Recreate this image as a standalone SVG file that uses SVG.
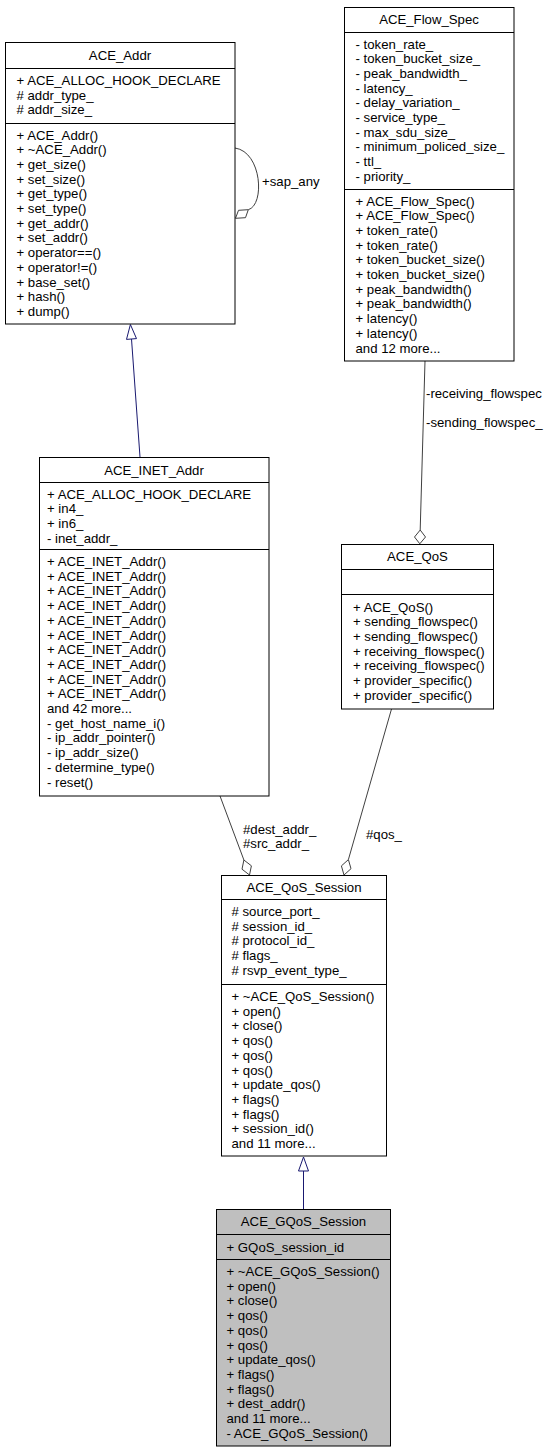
<svg xmlns="http://www.w3.org/2000/svg" width="549" height="1453" viewBox="0 0 549 1453">
<style>
.bg{fill:#ffffff}
.box{fill:#ffffff;stroke:#000000;stroke-width:1}
.cur{fill:#bfbfbf;stroke:#000000;stroke-width:1}
.sep{stroke:#000000;stroke-width:1}
text{font-family:"Liberation Sans",Arial,Helvetica,sans-serif;font-size:13.2px;fill:#000000}
.mid{text-anchor:middle}
.agg{fill:none;stroke:#404040;stroke-width:1}
.aggh{fill:#ffffff;stroke:#404040;stroke-width:1}
.inh{fill:none;stroke:#191970;stroke-width:1}
.inhh{fill:#ffffff;stroke:#191970;stroke-width:1}
</style>
<rect class="bg" x="0" y="0" width="549" height="1453"/>

<g id="connectors">
  <!-- self aggregation on ACE_Addr -->
  <path class="agg" d="M235,148 C262,152 265,205 248.3,209.7"/>
  <polygon class="aggh" points="248.3,209.7 245.5,217.7 235.5,218.3 238.5,210.3"/>
  <text x="262" y="186">+sap_any</text>
  <!-- ACE_INET_Addr inherits ACE_Addr -->
  <path class="inh" d="M140,457 L131.5,339"/>
  <polygon class="inhh" points="130.4,324.5 136.5,338.6 126.5,339.4"/>
  <!-- ACE_Flow_Spec aggregated by ACE_QoS -->
  <path class="agg" d="M425,361 L420.2,530"/>
  <polygon class="aggh" points="420.2,530 425.5,537 419.8,543.8 414.5,537"/>
  <text x="426" y="397.5">-receiving_flowspec</text>
  <text x="426" y="427">-sending_flowspec_</text>
  <!-- ACE_INET_Addr aggregated by ACE_QoS_Session -->
  <path class="agg" d="M220,796 L243.9,860"/>
  <polygon class="aggh" points="243.9,860 251.4,865.8 249.5,875 242,869.2"/>
  <text x="243" y="833.5">#dest_addr_</text>
  <text x="243" y="848">#src_addr_</text>
  <!-- ACE_QoS aggregated by ACE_QoS_Session -->
  <path class="agg" d="M391.5,709 L348.4,859.6"/>
  <polygon class="aggh" points="348.4,859.6 351,868.7 344,875 341.4,865.9"/>
  <text x="366" y="838.5">#qos_</text>
  <!-- ACE_GQoS_Session inherits ACE_QoS_Session -->
  <path class="inh" d="M303.5,1209 L303.5,1171"/>
  <polygon class="inhh" points="303.5,1157 308.5,1171 298.5,1171"/>
</g>

<g id="ACE_Addr">
  <rect class="box" x="5.5" y="42.5" width="229.5" height="281.5"/>
  <line class="sep" x1="5.5" y1="68.5" x2="235" y2="68.5"/>
  <line class="sep" x1="5.5" y1="123.5" x2="235" y2="123.5"/>
  <text class="mid" x="120" y="59.5">ACE_Addr</text>
  <text x="16.5" y="85">
    <tspan x="16.5">+ ACE_ALLOC_HOOK_DECLARE</tspan>
    <tspan x="16.5" dy="14.7"># addr_type_</tspan>
    <tspan x="16.5" dy="14.7"># addr_size_</tspan>
  </text>
  <text x="16.5" y="139.5">
    <tspan x="16.5">+ ACE_Addr()</tspan>
    <tspan x="16.5" dy="14.7">+ ~ACE_Addr()</tspan>
    <tspan x="16.5" dy="14.7">+ get_size()</tspan>
    <tspan x="16.5" dy="14.7">+ set_size()</tspan>
    <tspan x="16.5" dy="14.7">+ get_type()</tspan>
    <tspan x="16.5" dy="14.7">+ set_type()</tspan>
    <tspan x="16.5" dy="14.7">+ get_addr()</tspan>
    <tspan x="16.5" dy="14.7">+ set_addr()</tspan>
    <tspan x="16.5" dy="14.7">+ operator==()</tspan>
    <tspan x="16.5" dy="14.7">+ operator!=()</tspan>
    <tspan x="16.5" dy="14.7">+ base_set()</tspan>
    <tspan x="16.5" dy="14.7">+ hash()</tspan>
    <tspan x="16.5" dy="14.7">+ dump()</tspan>
  </text>
</g>

<g id="ACE_Flow_Spec">
  <rect class="box" x="344.5" y="7.5" width="169.5" height="353.5"/>
  <line class="sep" x1="344.5" y1="32.5" x2="514" y2="32.5"/>
  <line class="sep" x1="344.5" y1="189.5" x2="514" y2="189.5"/>
  <text class="mid" x="429" y="24">ACE_Flow_Spec</text>
  <text x="355.5" y="48.5">
    <tspan x="355.5">- token_rate_</tspan>
    <tspan x="355.5" dy="14.7">- token_bucket_size_</tspan>
    <tspan x="355.5" dy="14.7">- peak_bandwidth_</tspan>
    <tspan x="355.5" dy="14.7">- latency_</tspan>
    <tspan x="355.5" dy="14.7">- delay_variation_</tspan>
    <tspan x="355.5" dy="14.7">- service_type_</tspan>
    <tspan x="355.5" dy="14.7">- max_sdu_size_</tspan>
    <tspan x="355.5" dy="14.7">- minimum_policed_size_</tspan>
    <tspan x="355.5" dy="14.7">- ttl_</tspan>
    <tspan x="355.5" dy="14.7">- priority_</tspan>
  </text>
  <text x="355.5" y="205.5">
    <tspan x="355.5">+ ACE_Flow_Spec()</tspan>
    <tspan x="355.5" dy="14.7">+ ACE_Flow_Spec()</tspan>
    <tspan x="355.5" dy="14.7">+ token_rate()</tspan>
    <tspan x="355.5" dy="14.7">+ token_rate()</tspan>
    <tspan x="355.5" dy="14.7">+ token_bucket_size()</tspan>
    <tspan x="355.5" dy="14.7">+ token_bucket_size()</tspan>
    <tspan x="355.5" dy="14.7">+ peak_bandwidth()</tspan>
    <tspan x="355.5" dy="14.7">+ peak_bandwidth()</tspan>
    <tspan x="355.5" dy="14.7">+ latency()</tspan>
    <tspan x="355.5" dy="14.7">+ latency()</tspan>
    <tspan x="355.5" dy="14.7">and 12 more...</tspan>
  </text>
</g>

<g id="ACE_INET_Addr">
  <rect class="box" x="39.5" y="457.5" width="229.5" height="338.5"/>
  <line class="sep" x1="39.5" y1="482.5" x2="269" y2="482.5"/>
  <line class="sep" x1="39.5" y1="549.5" x2="269" y2="549.5"/>
  <text class="mid" x="154" y="474.5">ACE_INET_Addr</text>
  <text x="47" y="498.5">
    <tspan x="47">+ ACE_ALLOC_HOOK_DECLARE</tspan>
    <tspan x="47" dy="14.7">+ in4_</tspan>
    <tspan x="47" dy="14.7">+ in6_</tspan>
    <tspan x="47" dy="14.7">- inet_addr_</tspan>
  </text>
  <text x="47" y="566">
    <tspan x="47">+ ACE_INET_Addr()</tspan>
    <tspan x="47" dy="14.7">+ ACE_INET_Addr()</tspan>
    <tspan x="47" dy="14.7">+ ACE_INET_Addr()</tspan>
    <tspan x="47" dy="14.7">+ ACE_INET_Addr()</tspan>
    <tspan x="47" dy="14.7">+ ACE_INET_Addr()</tspan>
    <tspan x="47" dy="14.7">+ ACE_INET_Addr()</tspan>
    <tspan x="47" dy="14.7">+ ACE_INET_Addr()</tspan>
    <tspan x="47" dy="14.7">+ ACE_INET_Addr()</tspan>
    <tspan x="47" dy="14.7">+ ACE_INET_Addr()</tspan>
    <tspan x="47" dy="14.7">+ ACE_INET_Addr()</tspan>
    <tspan x="47" dy="14.7">and 42 more...</tspan>
    <tspan x="47" dy="14.7">- get_host_name_i()</tspan>
    <tspan x="47" dy="14.7">- ip_addr_pointer()</tspan>
    <tspan x="47" dy="14.7">- ip_addr_size()</tspan>
    <tspan x="47" dy="14.7">- determine_type()</tspan>
    <tspan x="47" dy="14.7">- reset()</tspan>
  </text>
</g>

<g id="ACE_QoS">
  <rect class="box" x="341.5" y="544.5" width="152" height="164.5"/>
  <line class="sep" x1="341.5" y1="569.5" x2="493.5" y2="569.5"/>
  <line class="sep" x1="341.5" y1="594.5" x2="493.5" y2="594.5"/>
  <text class="mid" x="417.5" y="561">ACE_QoS</text>
  <text x="353" y="611.5">
    <tspan x="353">+ ACE_QoS()</tspan>
    <tspan x="353" dy="14.7">+ sending_flowspec()</tspan>
    <tspan x="353" dy="14.7">+ sending_flowspec()</tspan>
    <tspan x="353" dy="14.7">+ receiving_flowspec()</tspan>
    <tspan x="353" dy="14.7">+ receiving_flowspec()</tspan>
    <tspan x="353" dy="14.7">+ provider_specific()</tspan>
    <tspan x="353" dy="14.7">+ provider_specific()</tspan>
  </text>
</g>

<g id="ACE_QoS_Session">
  <rect class="box" x="221.5" y="875.5" width="165" height="280.5"/>
  <line class="sep" x1="221.5" y1="899.5" x2="386.5" y2="899.5"/>
  <line class="sep" x1="221.5" y1="984.5" x2="386.5" y2="984.5"/>
  <text class="mid" x="304" y="891.5">ACE_QoS_Session</text>
  <text x="231.5" y="916">
    <tspan x="231.5"># source_port_</tspan>
    <tspan x="231.5" dy="14.7"># session_id_</tspan>
    <tspan x="231.5" dy="14.7"># protocol_id_</tspan>
    <tspan x="231.5" dy="14.7"># flags_</tspan>
    <tspan x="231.5" dy="14.7"># rsvp_event_type_</tspan>
  </text>
  <text x="231.5" y="1001">
    <tspan x="231.5">+ ~ACE_QoS_Session()</tspan>
    <tspan x="231.5" dy="14.7">+ open()</tspan>
    <tspan x="231.5" dy="14.7">+ close()</tspan>
    <tspan x="231.5" dy="14.7">+ qos()</tspan>
    <tspan x="231.5" dy="14.7">+ qos()</tspan>
    <tspan x="231.5" dy="14.7">+ qos()</tspan>
    <tspan x="231.5" dy="14.7">+ update_qos()</tspan>
    <tspan x="231.5" dy="14.7">+ flags()</tspan>
    <tspan x="231.5" dy="14.7">+ flags()</tspan>
    <tspan x="231.5" dy="14.7">+ session_id()</tspan>
    <tspan x="231.5" dy="14.7">and 11 more...</tspan>
  </text>
</g>

<g id="ACE_GQoS_Session">
  <rect class="cur" x="216.5" y="1209.5" width="174" height="236.5"/>
  <line class="sep" x1="216.5" y1="1234.5" x2="390.5" y2="1234.5"/>
  <line class="sep" x1="216.5" y1="1259.5" x2="390.5" y2="1259.5"/>
  <text class="mid" x="303.5" y="1225.5">ACE_GQoS_Session</text>
  <text x="226.5" y="1251.5">+ GQoS_session_id</text>
  <text x="226.5" y="1276">
    <tspan x="226.5">+ ~ACE_GQoS_Session()</tspan>
    <tspan x="226.5" dy="14.7">+ open()</tspan>
    <tspan x="226.5" dy="14.7">+ close()</tspan>
    <tspan x="226.5" dy="14.7">+ qos()</tspan>
    <tspan x="226.5" dy="14.7">+ qos()</tspan>
    <tspan x="226.5" dy="14.7">+ qos()</tspan>
    <tspan x="226.5" dy="14.7">+ update_qos()</tspan>
    <tspan x="226.5" dy="14.7">+ flags()</tspan>
    <tspan x="226.5" dy="14.7">+ flags()</tspan>
    <tspan x="226.5" dy="14.7">+ dest_addr()</tspan>
    <tspan x="226.5" dy="14.7">and 11 more...</tspan>
    <tspan x="226.5" dy="14.7">- ACE_GQoS_Session()</tspan>
  </text>
</g>
</svg>
